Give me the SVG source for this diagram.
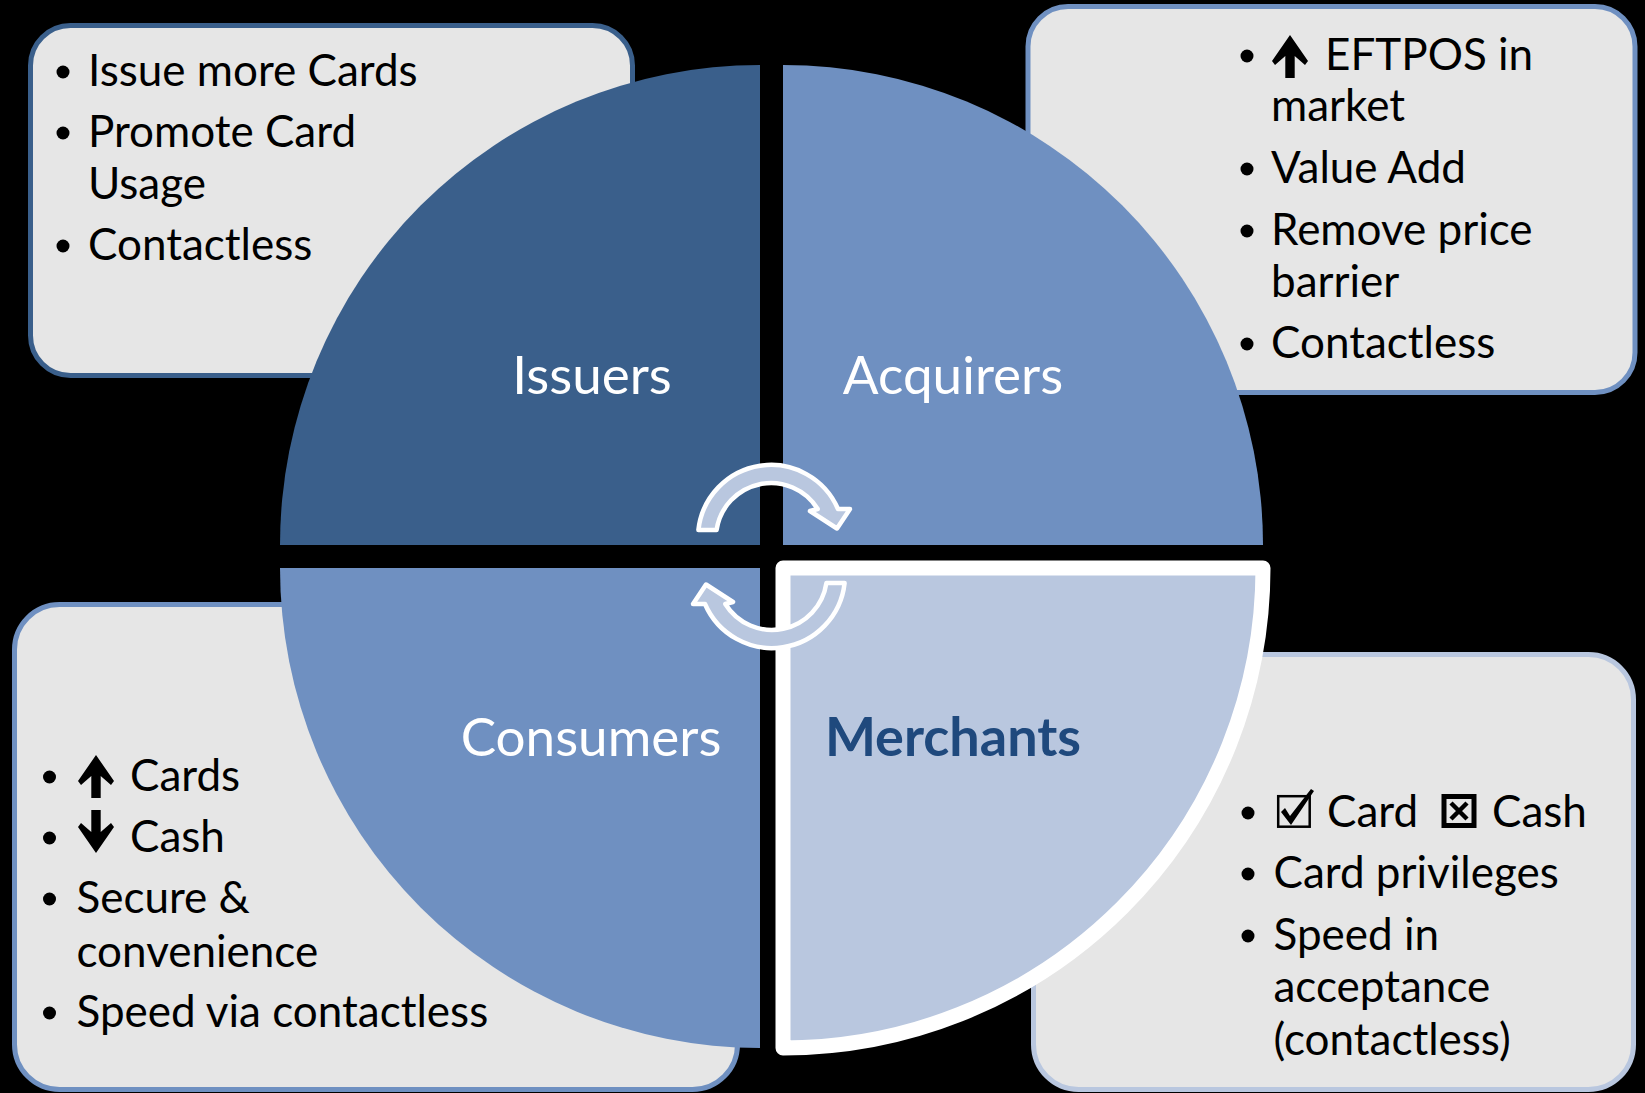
<svg xmlns="http://www.w3.org/2000/svg" width="1645" height="1093" viewBox="0 0 1645 1093">
<style>
.box{fill:#e6e6e6;stroke-width:5}
.b{font-family:Lato,'Open Sans',sans-serif;font-size:44px;fill:#000}
.q{font-family:Lato,'Open Sans',sans-serif;font-size:53px;fill:#fff;text-anchor:middle}
.mq{font-weight:bold;fill:#1f497d;font-size:54px}
.dot{fill:#000}
.arw{fill:#000}
.cyc{fill:#b9c7df;stroke:#fff;stroke-width:4.5;stroke-linejoin:round}
</style>
<defs>
<path id="upArrow" d="M0,0 L18,26 L15,30 L4.7,21 L4.7,43 L-4.7,43 L-4.7,21 L-15,30 L-18,26 Z"/>
<path id="cycArrow" d="M698.4,530 A73,73 0 0 1 838,509 L850,509 L837,528.5 L810,511 L817.7,509 A55,55 0 0 0 716.6,530 Z"/>
</defs>
<rect width="1645" height="1093" fill="#000"/>

<g id="box-issuers">
<rect class="box" x="30.5" y="25.5" width="602" height="350" rx="40" stroke="#3a5f8b"/>
<circle class="dot" cx="63" cy="72" r="6.5"/>
<text class="b" x="88" y="86">Issue more Cards</text>
<circle class="dot" cx="63" cy="133" r="6.5"/>
<text class="b" x="88" y="147">Promote Card</text>
<text class="b" x="88" y="199">Usage</text>
<circle class="dot" cx="63" cy="246" r="6.5"/>
<text class="b" x="88" y="260">Contactless</text>
</g>

<g id="box-acquirers">
<rect class="box" x="1028" y="6.5" width="607" height="386" rx="40" stroke="#6f90c1"/>
<circle class="dot" cx="1247" cy="56" r="6.5"/>
<use href="#upArrow" class="arw" x="1290" y="35"/>
<text class="b" x="1325" y="70">EFTPOS in</text>
<text class="b" x="1271" y="121">market</text>
<circle class="dot" cx="1247" cy="169" r="6.5"/>
<text class="b" x="1271" y="183">Value Add</text>
<circle class="dot" cx="1247" cy="231" r="6.5"/>
<text class="b" x="1271" y="245">Remove price</text>
<text class="b" x="1271" y="297">barrier</text>
<circle class="dot" cx="1247" cy="344" r="6.5"/>
<text class="b" x="1271" y="358">Contactless</text>
</g>

<g id="box-consumers">
<rect class="box" x="14.5" y="604.5" width="723" height="485" rx="45" stroke="#6f90c1"/>
<circle class="dot" cx="49.5" cy="777" r="6.5"/>
<use href="#upArrow" class="arw" x="96" y="755"/>
<text class="b" x="130" y="791">Cards</text>
<circle class="dot" cx="49.5" cy="838" r="6.5"/>
<use href="#upArrow" class="arw" transform="translate(96,853) scale(1,-1)"/>
<text class="b" x="130" y="852">Cash</text>
<circle class="dot" cx="49.5" cy="899" r="6.5"/>
<text class="b" x="76.5" y="913">Secure &amp;</text>
<text class="b" x="76.5" y="967">convenience</text>
<circle class="dot" cx="49.5" cy="1013" r="6.5"/>
<text class="b" x="76.5" y="1027">Speed via contactless</text>
</g>

<g id="box-merchants">
<rect class="box" x="1033.5" y="654.5" width="600" height="435" rx="45" stroke="#b9c7df"/>
<circle class="dot" cx="1248" cy="813" r="6.5"/>
<rect x="1278.2" y="796.2" width="31.5" height="30.5" fill="none" stroke="#000" stroke-width="2.5"/>
<path d="M1281,812 L1285,808 L1290,816 L1311,789 L1314,791 L1291,825 Z" fill="#000"/>
<text class="b" x="1327" y="827">Card</text>
<rect x="1444" y="796.5" width="30" height="29" fill="none" stroke="#000" stroke-width="5"/>
<path d="M1451,803 L1467,819 M1467,803 L1451,819" stroke="#000" stroke-width="4.5"/>
<text class="b" x="1492" y="827">Cash</text>
<circle class="dot" cx="1248" cy="874" r="6.5"/>
<text class="b" x="1273.5" y="888">Card privileges</text>
<circle class="dot" cx="1248" cy="936" r="6.5"/>
<text class="b" x="1273.5" y="950">Speed in</text>
<text class="b" x="1273.5" y="1002">acceptance</text>
<text class="b" x="1273.5" y="1055">(contactless)</text>
</g>

<g id="issuers">
<path d="M760,545 L280,545 A480,480 0 0 1 760,65 Z" fill="#3a5f8b"/>
<text class="q" x="592" y="394">Issuers</text>
</g>
<g id="acquirers">
<path d="M783,545 L783,65 A480,480 0 0 1 1263,545 Z" fill="#6f90c1"/>
<text class="q" x="953" y="394">Acquirers</text>
</g>
<g id="consumers">
<path d="M760,568 L760,1048 A480,480 0 0 1 280,568 Z" fill="#6f90c1"/>
<text class="q" x="591" y="756">Consumers</text>
</g>
<g id="merchants">
<path d="M783,568 L1263,568 A480,480 0 0 1 783,1048 Z" fill="#b9c7df" stroke="#fff" stroke-width="15" stroke-linejoin="round"/>
<text class="q mq" x="953" y="756">Merchants</text>
</g>

<g id="connectors">
<use href="#cycArrow" class="cyc"/>
<use href="#cycArrow" class="cyc" transform="rotate(180 771.5 556.5)"/>
</g>
</svg>
